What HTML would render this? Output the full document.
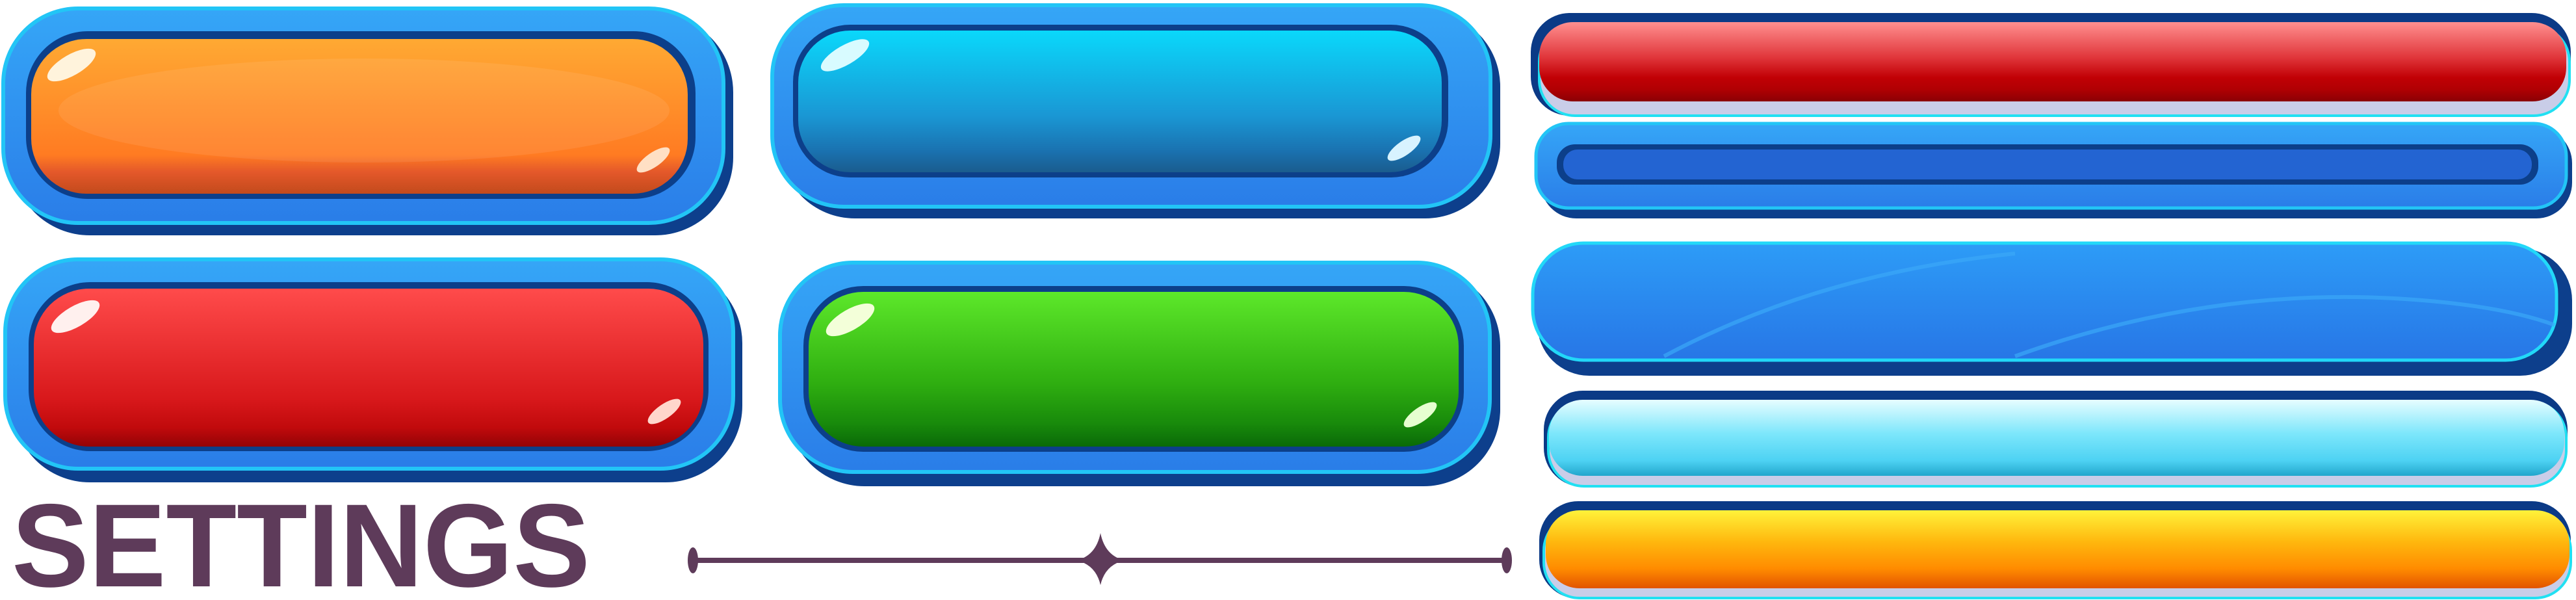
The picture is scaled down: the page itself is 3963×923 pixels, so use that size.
<!DOCTYPE html>
<html><head><meta charset="utf-8"><style>
html,body{margin:0;padding:0;background:#fff;width:3963px;height:923px;overflow:hidden}
svg{display:block}
</style></head><body>
<svg width="3963" height="923" viewBox="0 0 3963 923" xmlns="http://www.w3.org/2000/svg">
<defs>
<linearGradient id="frame" x1="0" y1="0" x2="0" y2="1"><stop offset="0" stop-color="#35a6f7"/><stop offset="1" stop-color="#2a7de8"/></linearGradient>
<linearGradient id="org" x1="0" y1="0" x2="0" y2="1"><stop offset="0" stop-color="#ffa933"/><stop offset="0.75" stop-color="#ff7b22"/><stop offset="0.86" stop-color="#e4582a"/><stop offset="1" stop-color="#c24a1c"/></linearGradient>
<linearGradient id="cyn" x1="0" y1="0" x2="0" y2="1"><stop offset="0" stop-color="#0ad8fb"/><stop offset="0.6" stop-color="#1a97d4"/><stop offset="0.85" stop-color="#1a72b0"/><stop offset="1" stop-color="#1a5c8e"/></linearGradient>
<linearGradient id="red" x1="0" y1="0" x2="0" y2="1"><stop offset="0" stop-color="#ff4b4b"/><stop offset="0.7" stop-color="#d8181b"/><stop offset="0.88" stop-color="#c10a0c"/><stop offset="1" stop-color="#930306"/></linearGradient>
<linearGradient id="grn" x1="0" y1="0" x2="0" y2="1"><stop offset="0" stop-color="#5de82a"/><stop offset="0.6" stop-color="#2ead10"/><stop offset="0.85" stop-color="#188a0b"/><stop offset="1" stop-color="#0a6a08"/></linearGradient>
<linearGradient id="rbar" x1="0" y1="0" x2="0" y2="1"><stop offset="0" stop-color="#ff8f8f"/><stop offset="0.45" stop-color="#e0353a"/><stop offset="0.7" stop-color="#c10005"/><stop offset="0.85" stop-color="#b00003"/><stop offset="1" stop-color="#8a0004"/></linearGradient>
<linearGradient id="lbar" x1="0" y1="0" x2="0" y2="1"><stop offset="0" stop-color="#e6fdff"/><stop offset="0.45" stop-color="#7ce6fb"/><stop offset="0.8" stop-color="#4dd2f3"/><stop offset="1" stop-color="#22a6cc"/></linearGradient>
<linearGradient id="ybar" x1="0" y1="0" x2="0" y2="1"><stop offset="0" stop-color="#fff23a"/><stop offset="0.4" stop-color="#ffb80e"/><stop offset="0.75" stop-color="#ff8b00"/><stop offset="1" stop-color="#e25400"/></linearGradient>
<linearGradient id="bigb" x1="0" y1="0" x2="0" y2="1"><stop offset="0" stop-color="#2d9cf7"/><stop offset="1" stop-color="#2776e6"/></linearGradient>
</defs>

<!-- Orange button -->
<g>
<rect x="18" y="22" width="1110" height="340" rx="120" fill="#0d3f8c"/>
<rect x="5" y="13" width="1108" height="330" rx="115" fill="url(#frame)" stroke="#22c5f6" stroke-width="6"/>
<rect x="40" y="48" width="1030" height="258" rx="95" fill="#0c3f8a"/>
<rect x="48" y="60" width="1010" height="238" rx="85" fill="url(#org)"/>
<ellipse cx="560" cy="170" rx="470" ry="80" fill="#ffffff" opacity="0.08"/>
<ellipse cx="110" cy="100" rx="42" ry="16" transform="rotate(-30 110 100)" fill="#fff3dc"/>
<ellipse cx="1005" cy="246" rx="30" ry="11" transform="rotate(-35 1005 246)" fill="#ffe0c4"/>
</g>

<!-- Cyan button -->
<g>
<rect x="1200" y="18" width="1108" height="318" rx="115" fill="#0d3f8c"/>
<rect x="1188" y="8" width="1105" height="310" rx="110" fill="url(#frame)" stroke="#22c5f6" stroke-width="6"/>
<rect x="1220" y="38" width="1008" height="235" rx="88" fill="#0c3f8a"/>
<rect x="1228" y="47" width="990" height="218" rx="80" fill="url(#cyn)"/>
<ellipse cx="1300" cy="85" rx="42" ry="15" transform="rotate(-30 1300 85)" fill="#d8fbff"/>
<ellipse cx="2160" cy="228" rx="30" ry="11" transform="rotate(-35 2160 228)" fill="#d8f3ff"/>
</g>

<!-- Red button -->
<g>
<rect x="20" y="410" width="1122" height="332" rx="118" fill="#0d3f8c"/>
<rect x="8" y="399" width="1120" height="322" rx="112" fill="url(#frame)" stroke="#22c5f6" stroke-width="6"/>
<rect x="44" y="434" width="1046" height="260" rx="95" fill="#0c3f8a"/>
<rect x="52" y="444" width="1030" height="243" rx="85" fill="url(#red)"/>
<ellipse cx="116" cy="487" rx="42" ry="16" transform="rotate(-30 116 487)" fill="#fff0ee"/>
<ellipse cx="1022" cy="633" rx="30" ry="11" transform="rotate(-35 1022 633)" fill="#ffd6cc"/>
</g>

<!-- Green button -->
<g>
<rect x="1212" y="414" width="1096" height="334" rx="118" fill="#0d3f8c"/>
<rect x="1200" y="404" width="1092" height="322" rx="112" fill="url(#frame)" stroke="#22c5f6" stroke-width="6"/>
<rect x="1236" y="440" width="1016" height="255" rx="92" fill="#0c3f8a"/>
<rect x="1244" y="449" width="1000" height="238" rx="84" fill="url(#grn)"/>
<ellipse cx="1308" cy="492" rx="42" ry="16" transform="rotate(-30 1308 492)" fill="#f3ffd9"/>
<ellipse cx="2185" cy="638" rx="30" ry="11" transform="rotate(-35 2185 638)" fill="#e6ffd0"/>
</g>

<!-- Red bar -->
<g>
<rect x="2355" y="20" width="1600" height="158" rx="60" fill="#0b3a86"/>
<rect x="2368" y="40" width="1585" height="138" rx="55" fill="#c9cde8" stroke="#21e0f2" stroke-width="4"/>
<rect x="2368" y="34" width="1580" height="122" rx="52" fill="url(#rbar)"/>
</g>

<!-- Blue channel bar -->
<g>
<rect x="2370" y="196" width="1587" height="140" rx="55" fill="#0d3f8c"/>
<rect x="2363" y="190" width="1585" height="130" rx="50" fill="url(#frame)" stroke="#22c5f6" stroke-width="5"/>
<rect x="2395" y="222" width="1510" height="62" rx="28" fill="#0c3f8a"/>
<rect x="2405" y="230" width="1490" height="46" rx="22" fill="#2364d2"/>
</g>

<!-- Big blue panel -->
<g>
<rect x="2365" y="382" width="1592" height="196" rx="80" fill="#0d3f8c"/>
<rect x="2358" y="374" width="1575" height="180" rx="78" fill="url(#bigb)" stroke="#22d8f8" stroke-width="5"/>
<path d="M2560 548 Q2800 420 3100 390" stroke="#3aa8f8" stroke-width="6" fill="none" opacity="0.7"/>
<path d="M3100 548 Q3400 440 3700 460 Q3850 470 3930 500" stroke="#3aa8f8" stroke-width="6" fill="none" opacity="0.7"/>
</g>

<!-- Light cyan bar -->
<g>
<rect x="2375" y="601" width="1575" height="148" rx="60" fill="#0b3a86"/>
<rect x="2382" y="618" width="1566" height="130" rx="55" fill="#c9cde8" stroke="#21e0f2" stroke-width="4"/>
<rect x="2383" y="615" width="1562" height="117" rx="52" fill="url(#lbar)"/>
</g>

<!-- Yellow bar -->
<g>
<rect x="2368" y="771" width="1587" height="150" rx="60" fill="#0b3a86"/>
<rect x="2375" y="792" width="1580" height="128" rx="55" fill="#c9cde8" stroke="#21e0f2" stroke-width="4"/>
<rect x="2378" y="785" width="1575" height="120" rx="52" fill="url(#ybar)"/>
</g>

<!-- Settings title -->
<text x="18" y="902" font-family="Liberation Sans, sans-serif" font-weight="bold" font-size="182" fill="#5e3b5a" textLength="890" lengthAdjust="spacingAndGlyphs">SETTINGS</text>

<!-- Divider -->
<g fill="#5e3b5a">
<rect x="1060" y="858" width="1262" height="8" rx="4"/>
<ellipse cx="1066" cy="862" rx="8" ry="20"/>
<ellipse cx="2318" cy="862" rx="8" ry="20"/>
<path d="M1693 820 Q1700 855 1730 862 Q1700 869 1693 900 Q1686 869 1656 862 Q1686 855 1693 820Z"/>
</g>
</svg>
</body></html>
